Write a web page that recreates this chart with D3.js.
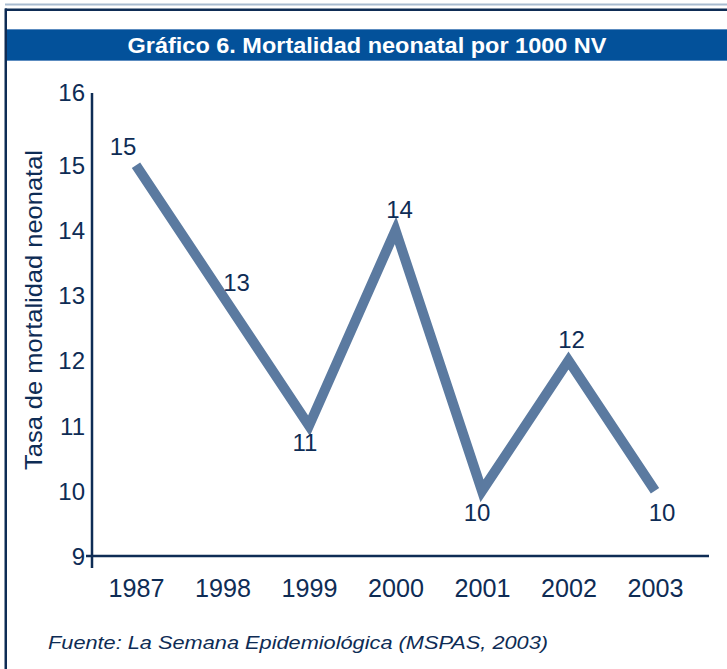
<!DOCTYPE html>
<html><head><meta charset="utf-8">
<script src="https://cdn.jsdelivr.net/npm/d3@7"></script>
<style>body{margin:0;background:#fff}svg{display:block}</style>
</head><body>
<svg id="c" width="727" height="669"></svg>
<script>
const years = ["1987","1998","1999","2000","2001","2002","2003"];
const rates = [15, 13, 11, 14, 10, 12, 10];
const yTicks = [9, 10, 11, 12, 13, 14, 15, 16];
const title = "Gráfico 6. Mortalidad neonatal por 1000 NV";
const yTitle = "Tasa de mortalidad neonatal";
const source = "Fuente: La Semana Epidemiológica (MSPAS, 2003)";

const svg = d3.select("#c");
const navy = "#0e2c55", band = "#03519a", lineC = "#5b7aa0";
const font = "'Liberation Sans', Arial, sans-serif";

// frame
svg.append("rect").attr("x",5).attr("y",3.5).attr("width",722).attr("height",2).attr("fill","#a8bbd0");
svg.append("rect").attr("x",5).attr("y",8.5).attr("width",722).attr("height",2.5).attr("fill",navy);
svg.append("rect").attr("x",4.5).attr("y",8.5).attr("width",2.5).attr("height",661).attr("fill",navy);
svg.append("rect").attr("x",7).attr("y",29).attr("width",720).attr("height",32).attr("fill",band);
svg.append("rect").attr("x",7).attr("y",29).attr("width",720).attr("height",1).attr("fill","#5c8cc0");
svg.append("rect").attr("x",7).attr("y",60).attr("width",720).attr("height",1).attr("fill","#5c8cc0");
svg.append("text").attr("x",367).attr("y",53).attr("text-anchor","middle")
  .attr("font-family",font).attr("font-weight","bold").attr("font-size",22)
  .attr("fill","#fff").attr("textLength",479).attr("lengthAdjust","spacingAndGlyphs").text(title);

const x = d3.scalePoint().domain(years).range([136, 655]);
const y = d3.scaleLinear().domain([9, 16]).range([556, 100]);

// axes
const yAxis = svg.append("g").attr("transform","translate(92,0)")
  .call(d3.axisLeft(y).tickValues(yTicks).tickSize(0).tickPadding(7).tickFormat(d3.format("d")));
yAxis.select(".domain").remove();
yAxis.selectAll("text").attr("font-family",font).attr("font-size",24).attr("fill",navy).attr("dy","0.35em")
  .attr("y", d => d === 16 ? -8 : 0);
svg.append("line").attr("x1",92).attr("x2",92).attr("y1",93).attr("y2",568).attr("stroke",navy).attr("stroke-width",2.5);

const xAxis = svg.append("g").attr("transform","translate(0,556)")
  .call(d3.axisBottom(x).tickSize(0).tickPadding(26));
xAxis.select(".domain").remove();
xAxis.selectAll("text").attr("font-family",font).attr("font-size",25).attr("fill",navy).attr("dy","0.6em")
  .attr("textLength",56).attr("lengthAdjust","spacingAndGlyphs");
svg.append("line").attr("x1",86).attr("x2",709).attr("y1",556).attr("y2",556).attr("stroke",navy).attr("stroke-width",2.5);

svg.append("text").attr("transform","translate(42,310) rotate(-90)").attr("text-anchor","middle")
  .attr("font-family",font).attr("font-size",24).attr("fill",navy).attr("textLength",320).attr("lengthAdjust","spacingAndGlyphs").text(yTitle);

// line
const data = years.map((yr,i)=>({yr, v: rates[i]}));
svg.append("path").datum(data)
  .attr("d", d3.line().x(d=>x(d.yr)).y(d=>y(d.v)))
  .attr("fill","none").attr("stroke",lineC).attr("stroke-width",10).attr("stroke-linejoin","miter");

// value labels: offsets relative to point
const off = [[-13,-19],[14,-13],[-4,17],[4,-21],[-5,22],[3,-21],[7,22]];
svg.append("g").selectAll("text").data(data).join("text")
  .attr("x",(d,i)=>x(d.yr)+off[i][0]).attr("y",(d,i)=>y(d.v)+off[i][1]).attr("dy","0.35em")
  .attr("text-anchor","middle").attr("font-family",font).attr("font-size",24).attr("fill",navy)
  .text(d=>d.v);

svg.append("text").attr("x",48).attr("y",649).attr("font-family",font).attr("font-style","italic")
  .attr("font-size",19).attr("fill",navy).attr("textLength",500).attr("lengthAdjust","spacingAndGlyphs").text(source);
</script>
</body></html>
